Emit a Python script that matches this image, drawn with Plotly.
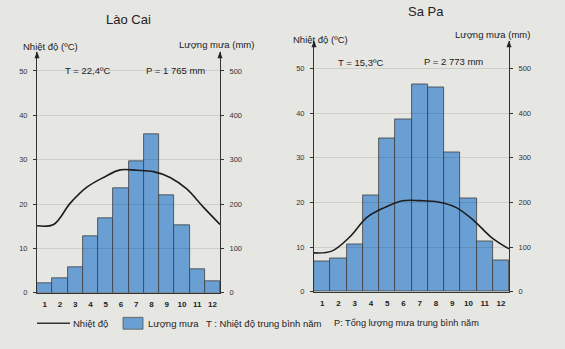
import plotly.graph_objects as go

months = [str(m) for m in range(1, 13)]

# Lào Cai
lc_rain = [22, 32, 57, 127, 169, 236, 297, 358, 220, 152, 54, 27]
lc_temp = [15.1, 15.4, 20.2, 23.8, 26.0, 27.7, 27.6, 27.3, 26.0, 23.4, 19.3, 15.4]

# Sa Pa
sp_rain = [69, 74, 106, 216, 344, 387, 465, 457, 312, 209, 112, 71]
sp_temp = [8.7, 9.1, 12.2, 16.7, 18.9, 20.4, 20.4, 20.1, 18.9, 16.0, 12.2, 9.6]

temp_ticks = [0, 10, 20, 30, 40, 50]
rain_ticks = [0, 100, 200, 300, 400, 500]

W, H = 565, 349
FONT = "Arial, Liberation Sans, sans-serif"
BAR = "#6a9fd3"
BG = "#e6e6e3"

def px(x):
    return x / W

def py(y):
    return (H - y) / H

fig = go.Figure()

fig.add_trace(go.Bar(x=list(range(1, 13)), y=lc_rain, xaxis="x", yaxis="y2",
                     marker=dict(color=BAR, line=dict(color="#3d3d3d", width=0.8)),
                     showlegend=False))
fig.add_trace(go.Bar(x=list(range(1, 13)), y=sp_rain, xaxis="x3", yaxis="y4",
                     marker=dict(color=BAR, line=dict(color="#3d3d3d", width=0.8)),
                     showlegend=False))
fig.add_trace(go.Scatter(x=list(range(1, 13)), y=lc_temp, xaxis="x2", yaxis="y",
                         mode="lines", line=dict(color="#1e1e1e", width=1.6, shape="spline"),
                         showlegend=False))
fig.add_trace(go.Scatter(x=list(range(1, 13)), y=sp_temp, xaxis="x4", yaxis="y3",
                         mode="lines", line=dict(color="#1e1e1e", width=1.6, shape="spline"),
                         showlegend=False))

lc_xd = [px(37), px(220)]
sp_xd = [px(314), px(509)]
lc_yd = [py(297), py(53)]
sp_yd = [py(296), py(42)]
lc_top = (297 - 53) / 4.5
sp_top = (296 - 42) / 4.53

tickfont = dict(family=FONT, size=7.5, color="#333")
monthfont = dict(family=FONT, size=8, color="#222", weight="bold")

def xbar(domain, anchor):
    return dict(domain=domain, range=[0.5, 12.5], anchor=anchor, tickmode="array",
                tickvals=list(range(1, 13)), ticktext=months, tickfont=monthfont,
                showline=True, linecolor="#333", linewidth=1, showgrid=False,
                zeroline=False, ticks="", ticklabelstandoff=4, fixedrange=True)

def xline(domain, anchor, over):
    return dict(domain=domain, range=[1, 12], anchor=anchor, overlaying=over,
                visible=False, fixedrange=True)

def ytemp(domain, anchor, top):
    return dict(domain=domain, range=[0, top], anchor=anchor, tickmode="array",
                tickvals=temp_ticks, tickfont=tickfont, showline=True,
                linecolor="#333", linewidth=1, ticks="outside", ticklen=3,
                tickcolor="#333", showgrid=True, gridcolor="rgba(0,0,0,0.10)",
                gridwidth=1, zeroline=False, ticklabelstandoff=4)

def yrain(anchor, over, top):
    return dict(range=[0, top * 10], anchor=anchor, overlaying=over, side="right",
                tickmode="array", tickvals=rain_ticks, tickfont=tickfont,
                showline=True, linecolor="#333", linewidth=1, ticks="outside",
                ticklen=3, tickcolor="#333", showgrid=False, zeroline=False,
                ticklabelstandoff=4)

shapes = []
for xx, ytop in [(37, 53), (220, 53), (314, 42), (509, 42)]:
    shapes.append(dict(type="path", xref="paper", yref="paper",
                       path=f"M {px(xx-2.5)} {py(ytop+6)} L {px(xx+2.5)} {py(ytop+6)} L {px(xx)} {py(ytop-1)} Z",
                       fillcolor="#222", line=dict(width=0)))
shapes.append(dict(type="line", xref="paper", yref="paper", x0=px(37), x1=px(70),
                   y0=py(328), y1=py(328), line=dict(color="#333", width=1.6)))
shapes.append(dict(type="rect", xref="paper", yref="paper", x0=px(123), x1=px(143),
                   y0=py(334), y1=py(322), fillcolor=BAR, line=dict(color="#555", width=0.8)))

def ann(text, x, y, size=8.5, xanchor="center"):
    return dict(text=text, x=px(x), y=py(y), xref="paper", yref="paper",
                showarrow=False, xanchor=xanchor, yanchor="middle",
                font=dict(family=FONT, size=size, color="#222"))

annotations = [
    ann("Lào Cai", 128, 20, 13),
    ann("Sa Pa", 426, 12, 13),
    ann("Nhiệt độ (ºC)", 50, 47, 9.5),
    ann("Lượng mưa (mm)", 216, 45, 9.5),
    ann("T = 22,4ºC", 87, 72, 9.5),
    ann("P = 1 765 mm", 175, 72, 9.5),
    ann("Nhiệt độ (ºC)", 320, 40, 9.5),
    ann("Lượng mưa (mm)", 492, 35, 9.5),
    ann("T = 15,3ºC", 360, 63, 9.5),
    ann("P = 2 773 mm", 453, 62, 9.5),
    ann("Nhiệt độ", 71, 328, 9.5, "left"),
    ann("Lượng mưa", 146, 328, 9.5, "left"),
    ann("T : Nhiệt độ trung bình năm", 204, 328, 9.5, "left"),
    ann("P: Tổng lượng mưa trung bình năm", 332, 328, 9.2, "left"),
]

fig.update_layout(
    width=W, height=H, autosize=False,
    margin=dict(l=0, r=0, t=0, b=0),
    paper_bgcolor=BG, plot_bgcolor="rgba(0,0,0,0)",
    bargap=0, barmode="overlay",
    xaxis=xbar(lc_xd, "y"),
    xaxis2=xline(lc_xd, "y", "x"),
    xaxis3=xbar(sp_xd, "y3"),
    xaxis4=xline(sp_xd, "y3", "x3"),
    yaxis=ytemp(lc_yd, "x", lc_top),
    yaxis2=yrain("x", "y", lc_top),
    yaxis3=ytemp(sp_yd, "x3", sp_top),
    yaxis4=yrain("x3", "y3", sp_top),
    shapes=shapes,
    annotations=annotations,
    font=dict(family=FONT),
)

fig.write_html("out.html")
